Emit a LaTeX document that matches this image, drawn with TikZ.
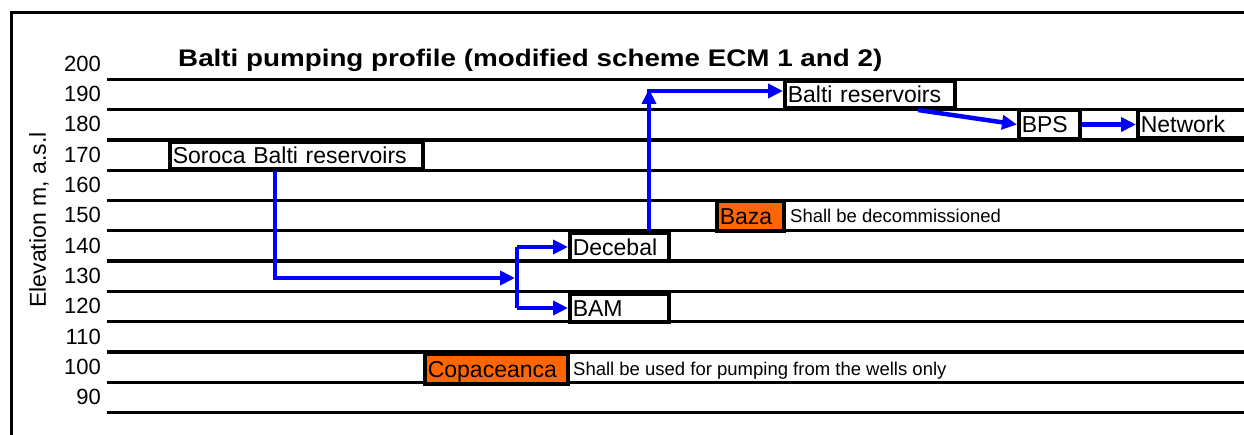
\documentclass[tikz,border=0pt]{standalone}
\usepackage{fontspec}
\setmainfont{Liberation Sans}
\usepackage{graphicx}
\usetikzlibrary{arrows.meta}
\definecolor{orng}{RGB}{255,102,0}
\newcommand{\fsz}[1]{\fontsize{#1}{#1}\selectfont}
\begin{document}
\begin{tikzpicture}[x=1pt,y=-1pt,
  gridline/.style={line width=3.3pt,black},
  frameline/.style={line width=3pt,black},
  box/.style={draw=black,fill=white,line width=4pt,inner xsep=2.8pt,inner ysep=0pt,
    align=left,font=\fsz{23},text height=16.5pt,text depth=0pt},
  hot/.style={box,fill=orng},
  flow/.style={draw=blue,line width=4.5pt,-{Triangle[length=15pt,width=14pt]}},
  flowline/.style={draw=blue,line width=4.5pt},
  ticklab/.style={anchor=east,font=\fsz{22},inner sep=0pt,text height=15.8pt,text depth=0pt},
  note/.style={anchor=west,font=\fsz{18.5},inner sep=0pt,text height=13.3pt,text depth=0pt}]
\useasboundingbox (0,0) rectangle (1244,435);
\fill[white] (0,0) rectangle (1244,435);
% frame
\draw[frameline] (11,440) -- (11,13) -- (1250,13);
% grid lines
\foreach \k in {0,...,11} {
  \draw[gridline] (107,79.3+30.3*\k) -- (1250,79.3+30.3*\k);
}
% tick labels
\foreach \j in {0,...,11} {
  \pgfmathtruncatemacro{\v}{200-10*\j}
  \node[ticklab] (t\j) at (101,63.5+30.3*\j) {\v};
}
% axis label
\node[rotate=90,font=\fsz{23}] (ylab) at (39,220) {Elevation m, a.s.l};
% title
\node[anchor=west,inner sep=0pt,text height=17.2pt,text depth=0pt] (title) at (178,58.3)
  {\scalebox{1.158}[1]{\fsz{24}\bfseries Balti pumping profile (modified scheme ECM 1 and 2)}};
% boxes
\node[box,text width=247.4pt,minimum height=27pt] (soroca) at (296.5,155.5) {Soroca Balti reservoirs};
\node[box,text width=164.4pt,minimum height=27pt] (balti) at (870,94.5) {Balti reservoirs};
\node[box,text width=55.4pt,minimum height=29pt] (bps) at (1049.5,124.5) {BPS};
\node[box,text width=124.4pt,minimum height=28pt] (network) at (1203,124.5) {Network};
\node[box,text width=93.4pt,minimum height=28pt] (decebal) at (619.5,247) {Decebal};
\node[box,text width=93.4pt,minimum height=28pt] (bam) at (619.5,308) {BAM};
\node[hot,text width=61.4pt,minimum height=30pt] (baza) at (750.5,216) {Baza};
\node[hot,text width=137.4pt,minimum height=30pt] (copa) at (496.5,369) {Copaceanca};
% notes
\node[note] (bazanote) at (790,216) {Shall be decommissioned};
\node[note] (copanote) at (573,369) {Shall be used for pumping from the wells only};
% flows
\coordinate (fork) at (517,278);
\coordinate (forktip) at (515,278);
\coordinate (riser) at (649,91);
\draw[flow] ([xshift=-21.5pt]soroca.south) |- (forktip);
\draw[flowline] (fork |- decebal.west) -- (fork |- bam.west);
\draw[flow] (fork |- decebal.west) -- (decebal.west);
\draw[flow] (fork |- bam.west) -- (bam.west);
\draw[flow] ([xshift=29.5pt]decebal.north) -- ([yshift=2pt]riser);
\draw[flow] ([xshift=-2pt]riser) -- (riser -| balti.west);
\draw[flow] ([xshift=48pt]balti.south) -- (bps.west);
\draw[flow] (bps.east) -- (network.west);
\end{tikzpicture}
\end{document}
